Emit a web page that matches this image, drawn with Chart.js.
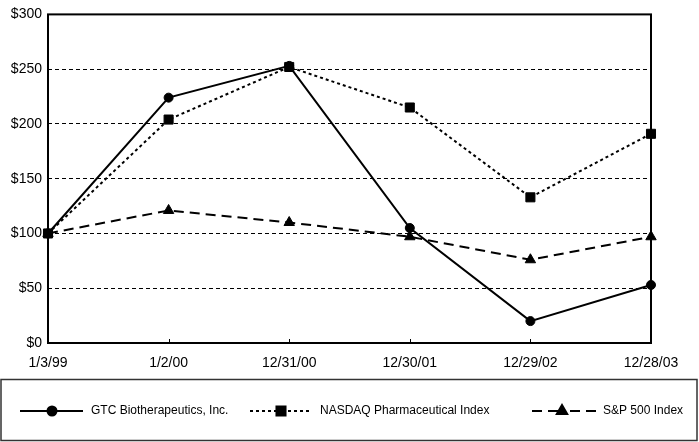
<!DOCTYPE html>
<html>
<head>
<meta charset="utf-8">
<script src="https://cdn.jsdelivr.net/npm/chart.js@4.4.1/dist/chart.umd.min.js"></script>
<style>
  html, body { margin: 0; padding: 0; background: #ffffff; }
  #wrap { width: 699px; height: 442px; }
</style>
</head>
<body>
<div id="wrap"><canvas id="c" width="699" height="442"></canvas></div>
<script>
const categories = ['1/3/99', '1/2/00', '12/31/00', '12/30/01', '12/29/02', '12/28/03'];
const gtcValues = [100, 224, 253, 105, 20, 53];
const nasdaqValues = [100, 204, 252, 215, 133, 191];
const sp500Values = [100, 121, 110, 97, 76, 97];
const seriesNames = ['GTC Biotherapeutics, Inc.', 'NASDAQ Pharmaceutical Index', 'S&P 500 Index'];
const yMin = 0, yMax = 300, yStep = 50;

const FONT = '"Liberation Sans", Arial, Helvetica, sans-serif';

const framePlugin = {
  id: 'frame',
  beforeDatasetsDraw(chart) {
    const { ctx, chartArea: a, scales } = chart;
    ctx.save();
    ctx.strokeStyle = '#000';
    ctx.lineWidth = 2;
    ctx.setLineDash([]);
    ctx.strokeRect(a.left, a.top, a.right - a.left, a.bottom - a.top);
    ctx.lineWidth = 1;
    const xs = scales.x;
    for (let i = 1; i < categories.length - 1; i++) {
      const px = Math.round(xs.getPixelForValue(i)) + 0.5;
      ctx.beginPath();
      ctx.moveTo(px, a.bottom);
      ctx.lineTo(px, a.bottom - 4);
      ctx.stroke();
    }
    ctx.restore();
  }
};

const legendPlugin = {
  id: 'boxLegend',
  afterDraw(chart) {
    const { ctx } = chart;
    ctx.save();
    ctx.strokeStyle = '#333';
    ctx.lineWidth = 1.5;
    ctx.setLineDash([]);
    ctx.strokeRect(1, 379.5, 696, 61);
    const cy = 411;
    const items = [
      { x1: 20, x2: 83, mx: 52, tx: 91, ds: chart.data.datasets[0] },
      { x1: 250, x2: 309, mx: 281, tx: 320, ds: chart.data.datasets[1] },
      { x1: 532, x2: 596, mx: 562, tx: 603, ds: chart.data.datasets[2] }
    ];
    items.forEach(it => {
      const ds = it.ds;
      ctx.strokeStyle = '#000';
      ctx.lineWidth = 2;
      ctx.setLineDash(ds.borderDash || []);
      ctx.beginPath();
      ctx.moveTo(it.x1, cy);
      ctx.lineTo(it.mx, cy);
      ctx.stroke();
      ctx.beginPath();
      ctx.moveTo(it.x2, cy);
      ctx.lineTo(it.mx, cy);
      ctx.stroke();
      ctx.setLineDash([]);
      ctx.fillStyle = '#000';
      Chart.helpers.drawPoint(ctx, {
        pointStyle: ds.pointStyle,
        radius: ds.pointRadius,
        borderWidth: 1,
        rotation: 0
      }, it.mx, cy);
      ctx.fillStyle = '#000';
      ctx.font = '12px ' + FONT;
      ctx.textBaseline = 'middle';
      ctx.textAlign = 'left';
      ctx.fillText(ds.label, it.tx, cy);
    });
    ctx.restore();
  }
};

new Chart(document.getElementById('c'), {
  type: 'line',
  data: {
    labels: categories,
    datasets: [
      {
        label: seriesNames[0], data: gtcValues,
        borderColor: '#000', backgroundColor: '#000', borderWidth: 2,
        pointStyle: 'circle', pointRadius: 4.5, pointBorderWidth: 1,
        pointBackgroundColor: '#000', pointBorderColor: '#000',
        tension: 0, clip: false, order: 1
      },
      {
        label: seriesNames[1], data: nasdaqValues,
        borderColor: '#000', backgroundColor: '#000', borderWidth: 2,
        borderDash: [3, 3],
        pointStyle: 'rect', pointRadius: 6.4, pointBorderWidth: 1,
        pointBackgroundColor: '#000', pointBorderColor: '#000',
        tension: 0, clip: false, order: 2
      },
      {
        label: seriesNames[2], data: sp500Values,
        borderColor: '#000', backgroundColor: '#000', borderWidth: 2,
        borderDash: [10, 6],
        pointStyle: 'triangle', pointRadius: 6, pointBorderWidth: 1,
        pointBackgroundColor: '#000', pointBorderColor: '#000',
        tension: 0, clip: false, order: 3
      }
    ]
  },
  options: {
    responsive: false,
    animation: false,
    devicePixelRatio: 1,
    layout: { padding: { top: 10, right: 48, bottom: 69, left: 0 } },
    plugins: { legend: { display: false }, tooltip: { enabled: false } },
    scales: {
      x: {
        type: 'category',
        offset: false,
        grid: { display: false, drawTicks: false },
        border: { display: false },
        ticks: {
          color: '#000', font: { family: FONT, size: 14 },
          padding: 12, maxRotation: 0, autoSkip: false
        },
        afterFit(s) { s.height = 30; }
      },
      y: {
        min: yMin, max: yMax,
        grid: {
          drawTicks: false,
          lineWidth: 1,
          color: (c) => (c.tick && (c.tick.value === yMin || c.tick.value === yMax)) ? 'rgba(0,0,0,0)' : '#000'
        },
        border: { display: false, dash: [4, 3] },
        ticks: {
          stepSize: yStep, color: '#000', font: { family: FONT, size: 14 }, padding: 6,
          callback: (v) => '$' + v
        },
        afterFit(s) { s.width = 48; }
      }
    }
  },
  plugins: [framePlugin, legendPlugin]
});
</script>
</body>
</html>
